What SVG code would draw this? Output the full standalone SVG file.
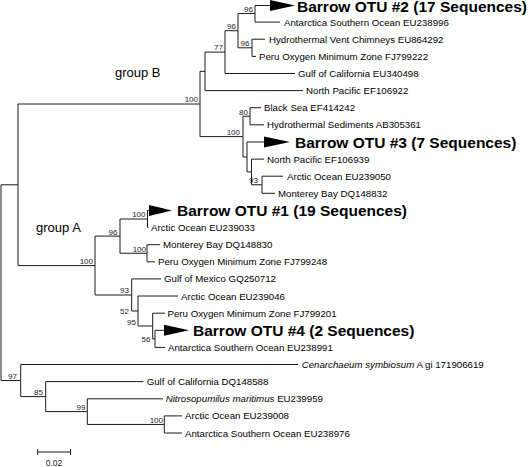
<svg xmlns="http://www.w3.org/2000/svg" width="528" height="467" viewBox="0 0 528 467">
<style>
.e{fill:none;stroke:#1a1a1a;stroke-width:1}
.t{font-family:"Liberation Sans",Arial,sans-serif;font-size:9.7px;fill:#000}
.o{font-family:"Liberation Sans",Arial,sans-serif;font-size:15.5px;font-weight:bold;fill:#000}
.b{font-family:"Liberation Sans",Arial,sans-serif;font-size:8px;fill:#222;text-anchor:end}
.g{font-family:"Liberation Sans",Arial,sans-serif;font-size:13px;fill:#000}
.tri{fill:#000}
</style>
<rect width="528" height="467" fill="#fff"/>
<g id="connectors">
<path class="e" d="M1,282.7V184.8H18M1,282.7V380.55H20.7"/>
<path class="e" d="M18,184.8V104H200M18,184.8V265.6H95"/>
<path class="e" d="M200,104V71.35H205M200,104V136.6H243"/>
<path class="e" d="M205,71.35V52.1H225M205,71.35V90.6H303"/>
<path class="e" d="M225,52.1V30.7H238M225,52.1V73.5H295"/>
<path class="e" d="M238,30.7V13.55H255M238,30.7V47.8H252"/>
<path class="e" d="M255,13.55V5.5H270M255,13.55V22.1H280"/>
<path class="e" d="M252,47.8V39.2H265M252,47.8V56.4H256"/>
<path class="e" d="M243,136.6V116.25H250M243,136.6V157H247"/>
<path class="e" d="M250,116.25V107.7H261M250,116.25V124.8H264"/>
<path class="e" d="M247,157V142H264M247,157V171.9H251.5"/>
<path class="e" d="M251.5,171.9V159.1H264M251.5,171.9V184.75H262"/>
<path class="e" d="M262,184.75V176.2H283M262,184.75V193.3H275"/>
<path class="e" d="M95,265.6V236.1H120M95,265.6V295H131.7"/>
<path class="e" d="M120,236.1V219H147.5M120,236.1V253.25H147"/>
<path class="e" d="M147.5,219V210.4H149M147.5,219V227.6H148.5"/>
<path class="e" d="M147,253.25V244.7H160M147,253.25V261.8H155"/>
<path class="e" d="M131.7,295V278.9H161M131.7,295V311H138"/>
<path class="e" d="M138,311V296H178M138,311V326H152.7"/>
<path class="e" d="M152.7,326V313.2H165M152.7,326V338.85H155"/>
<path class="e" d="M155,338.85V330.3H164M155,338.85V347.4H165"/>
<path class="e" d="M20.7,380.55V364.5H298.3M20.7,380.55V396.6H45.7"/>
<path class="e" d="M45.7,396.6V381.6H143.3M45.7,396.6V411.6H87.3"/>
<path class="e" d="M87.3,411.6V398.8H163M87.3,411.6V424.45H164.3"/>
<path class="e" d="M164.3,424.45V415.9H182M164.3,424.45V433H182"/>
</g>
<g id="group-labels">
<text class="g" x="115" y="77">group B</text>
<text class="g" x="36" y="231.5">group A</text>
</g>
<g id="bootstrap">
<text class="b" x="198" y="102">100</text>
<text class="b" x="223" y="50">77</text>
<text class="b" x="236" y="29">96</text>
<text class="b" x="253" y="12">96</text>
<text class="b" x="249.5" y="46">96</text>
<text class="b" x="248" y="115">80</text>
<text class="b" x="240" y="135">100</text>
<text class="b" x="258" y="182.5">93</text>
<text class="b" x="93" y="264">100</text>
<text class="b" x="117.5" y="234.5">96</text>
<text class="b" x="145.5" y="217">100</text>
<text class="b" x="146" y="251.5">100</text>
<text class="b" x="129" y="293">93</text>
<text class="b" x="129" y="313.5">52</text>
<text class="b" x="136" y="324.5">95</text>
<text class="b" x="150.5" y="342">56</text>
<text class="b" x="17" y="378.5">97</text>
<text class="b" x="43" y="394.5">85</text>
<text class="b" x="85.5" y="409.5">99</text>
<text class="b" x="163" y="422.5">100</text>
</g>
<g id="otu2"><polygon class="tri" points="270,0 270,11 295,5.5"/><text class="o" x="297" y="11.5">Barrow OTU #2 (17 Sequences)</text></g>
<g id="leaf-EU238996"><text class="t" x="284" y="25.6">Antarctica Southern Ocean EU238996</text></g>
<g id="leaf-EU864292"><text class="t" x="269" y="42.7">Hydrothermal Vent Chimneys EU864292</text></g>
<g id="leaf-FJ799222"><text class="t" x="259" y="59.9">Peru Oxygen Minimum Zone FJ799222</text></g>
<g id="leaf-EU340498"><text class="t" x="298" y="77">Gulf of California EU340498</text></g>
<g id="leaf-EF106922"><text class="t" x="306" y="94.1">North Pacific EF106922</text></g>
<g id="leaf-EF414242"><text class="t" x="264" y="111.2">Black Sea EF414242</text></g>
<g id="leaf-AB305361"><text class="t" x="267" y="128.3">Hydrothermal Sediments AB305361</text></g>
<g id="otu3"><polygon class="tri" points="264,136.5 264,147.5 290,142"/><text class="o" x="295" y="147.5">Barrow OTU #3 (7 Sequences)</text></g>
<g id="leaf-EF106939"><text class="t" x="267" y="162.6">North Pacific EF106939</text></g>
<g id="leaf-EU239050"><text class="t" x="287" y="179.7">Arctic Ocean EU239050</text></g>
<g id="leaf-DQ148832"><text class="t" x="278" y="196.8">Monterey Bay DQ148832</text></g>
<g id="otu1"><polygon class="tri" points="149,204.9 149,215.9 172,210.4"/><text class="o" x="177" y="215.9">Barrow OTU #1 (19 Sequences)</text></g>
<g id="leaf-EU239033"><text class="t" x="151" y="231.1">Arctic Ocean EU239033</text></g>
<g id="leaf-DQ148830"><text class="t" x="163" y="248.2">Monterey Bay DQ148830</text></g>
<g id="leaf-FJ799248"><text class="t" x="158" y="265.3">Peru Oxygen Minimum Zone FJ799248</text></g>
<g id="leaf-GQ250712"><text class="t" x="164" y="282.4">Gulf of Mexico GQ250712</text></g>
<g id="leaf-EU239046"><text class="t" x="181" y="299.5">Arctic Ocean EU239046</text></g>
<g id="leaf-FJ799201"><text class="t" x="167.5" y="316.7">Peru Oxygen Minimum Zone FJ799201</text></g>
<g id="otu4"><polygon class="tri" points="164,324.8 164,335.8 189,330.3"/><text class="o" x="193" y="335.8">Barrow OTU #4 (2 Sequences)</text></g>
<g id="leaf-EU238991"><text class="t" x="168" y="350.9">Antarctica Southern Ocean EU238991</text></g>
<g id="leaf-Cenarchaeum"><text class="t" x="301.7" y="368"><tspan font-style="italic">Cenarchaeum symbiosum</tspan> A gi 171906619</text></g>
<g id="leaf-DQ148588"><text class="t" x="146.7" y="385.1">Gulf of California DQ148588</text></g>
<g id="leaf-Nitrosopumilus"><text class="t" x="165.7" y="402.3"><tspan font-style="italic">Nitrosopumilus maritimus</tspan> EU239959</text></g>
<g id="leaf-EU239008"><text class="t" x="185" y="419.4">Arctic Ocean EU239008</text></g>
<g id="leaf-EU238976"><text class="t" x="185" y="436.5">Antarctica Southern Ocean EU238976</text></g>
<g id="scale-bar">
<path class="e" d="M37.7,452H70.5M37.7,449V455M70.5,449V455"/>
<text class="b" style="text-anchor:middle;font-size:8.5px" x="54" y="466">0.02</text>
</g>
</svg>
